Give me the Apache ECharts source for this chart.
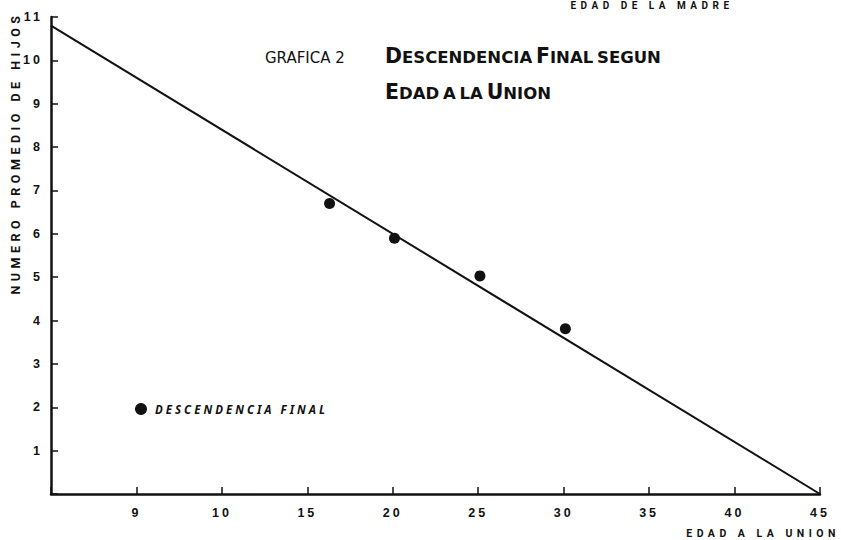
<!DOCTYPE html>
<html>
<head>
<meta charset="utf-8">
<script src="https://cdn.jsdelivr.net/npm/echarts@6/dist/echarts.min.js"></script>
<style>
  html, body { margin: 0; padding: 0; background: #fff; }
  #chart { width: 841px; height: 540px; }
  /* spaced lettering of the hand-lettered original */
  #chart text[style*="Liberation"], #chart text[font-family*="Liberation"] { letter-spacing: 3px; }
  #chart text[style*="Roboto"], #chart text[font-family*="Roboto"] { letter-spacing: 4.5px; }
  #chart text[style*="Noto Sans"], #chart text[font-family*="Noto Sans"] { letter-spacing: 3px; }
</style>
</head>
<body>
<div id="chart"></div>
<script>
// observed points: descendencia final by age at union
const ageAtUnion = [16.3, 20.1, 25.1, 30.1];
const meanChildren = [6.7, 5.9, 5.03, 3.81];

// fitted straight line (ends)
const lineAge = [0, 45];
const lineChildren = [10.8, 0];

// x tick labels as printed on the original axis (one per 5 units)
const xTickLabels = ['', '9', '10', '15', '20', '25', '30', '35', '40', '45'];

const chart = echarts.init(document.getElementById('chart'), null, { renderer: 'svg' });

const tickFont = { fontFamily: 'Liberation Sans', fontWeight: 'bold', fontSize: 12.5, color: '#111' };

const option = {
  animation: false,
  backgroundColor: '#fff',
  grid: { left: 51, right: 21, top: 17, bottom: 46 },
  legend: {
    data: ['DESCENDENCIA FINAL'],
    left: 130,
    top: 398,
    icon: 'circle',
    itemWidth: 12,
    itemHeight: 12,
    itemStyle: { opacity: 1 },
    textStyle: {
      fontFamily: 'Noto Sans',
      fontStyle: 'italic',
      fontWeight: 'bold',
      fontSize: 11.5,
      color: '#111',
      padding: [0, 0, 0, 3]
    }
  },
  xAxis: {
    type: 'value',
    min: 0,
    max: 45,
    interval: 5,
    splitLine: { show: false },
    axisLine: { lineStyle: { color: '#111', width: 2.5 } },
    axisTick: { inside: true, length: 7, lineStyle: { color: '#111', width: 1.5 } },
    axisLabel: Object.assign({
      margin: 12,
      formatter: function (v) { return xTickLabels[Math.round(v / 5)]; }
    }, tickFont)
  },
  yAxis: {
    type: 'value',
    min: 0,
    max: 11,
    interval: 1,
    splitLine: { show: false },
    axisLine: { show: true, lineStyle: { color: '#111', width: 2.5 } },
    axisTick: { show: true, inside: true, length: 7, lineStyle: { color: '#111', width: 1.5 } },
    axisLabel: Object.assign({
      margin: 8,
      formatter: function (v) { return v === 0 ? '' : String(v); }
    }, tickFont)
  },
  graphic: [
    {
      type: 'text',
      x: 15,
      y: 153,
      rotation: Math.PI / 2,
      style: {
        text: 'NUMERO PROMEDIO DE HIJOS',
        fontFamily: 'Roboto',
        fontWeight: 'bold',
        fontSize: 12.5,
        fill: '#111',
        textAlign: 'center',
        textVerticalAlign: 'middle'
      }
    },
    {
      type: 'text',
      x: 840,
      y: 533,
      style: {
        text: 'EDAD A LA UNION',
        fontFamily: 'Roboto',
        fontWeight: 'bold',
        fontSize: 10.5,
        fill: '#111',
        textAlign: 'right',
        textVerticalAlign: 'middle'
      }
    },
    {
      type: 'text',
      x: 652,
      y: 5,
      style: {
        text: 'EDAD DE LA MADRE',
        fontFamily: 'Roboto',
        fontWeight: 'bold',
        fontSize: 10,
        fill: '#111',
        textAlign: 'center',
        textVerticalAlign: 'middle'
      }
    },
    {
      type: 'text',
      x: 265,
      y: 58,
      style: {
        text: 'GRAFICA 2',
        fontFamily: 'DejaVu Sans',
        fontSize: 15,
        fill: '#111',
        textAlign: 'left',
        textVerticalAlign: 'middle'
      }
    },
    {
      type: 'text',
      x: 385,
      y: 66,
      style: {
        text: '{b|D}{s|ESCENDENCIA} {b|F}{s|INAL} {s|SEGUN}\n{b|E}{s|DAD} {s|A} {s|LA} {b|U}{s|NION}',
        fontFamily: 'DejaVu Sans',
        fill: '#111',
        textAlign: 'left',
        textVerticalAlign: 'middle',
        rich: {
          b: { fontFamily: 'DejaVu Sans', fontWeight: 'bold', fontSize: 20.5, lineHeight: 36, verticalAlign: 'bottom', fill: '#111' },
          s: { fontFamily: 'DejaVu Sans', fontWeight: 'bold', fontSize: 16.5, lineHeight: 36, verticalAlign: 'bottom', fill: '#111' }
        }
      }
    }
  ],
  series: [
    {
      name: 'recta',
      type: 'line',
      data: lineAge.map((x, i) => [x, lineChildren[i]]),
      showSymbol: false,
      lineStyle: { color: '#111', width: 2 },
      z: 2
    },
    {
      name: 'DESCENDENCIA FINAL',
      type: 'scatter',
      data: ageAtUnion.map((x, i) => [x, meanChildren[i]]),
      symbol: 'circle',
      symbolSize: 11,
      itemStyle: { color: '#111', opacity: 1 },
      z: 3
    }
  ]
};

chart.setOption(option);
</script>
</body>
</html>
